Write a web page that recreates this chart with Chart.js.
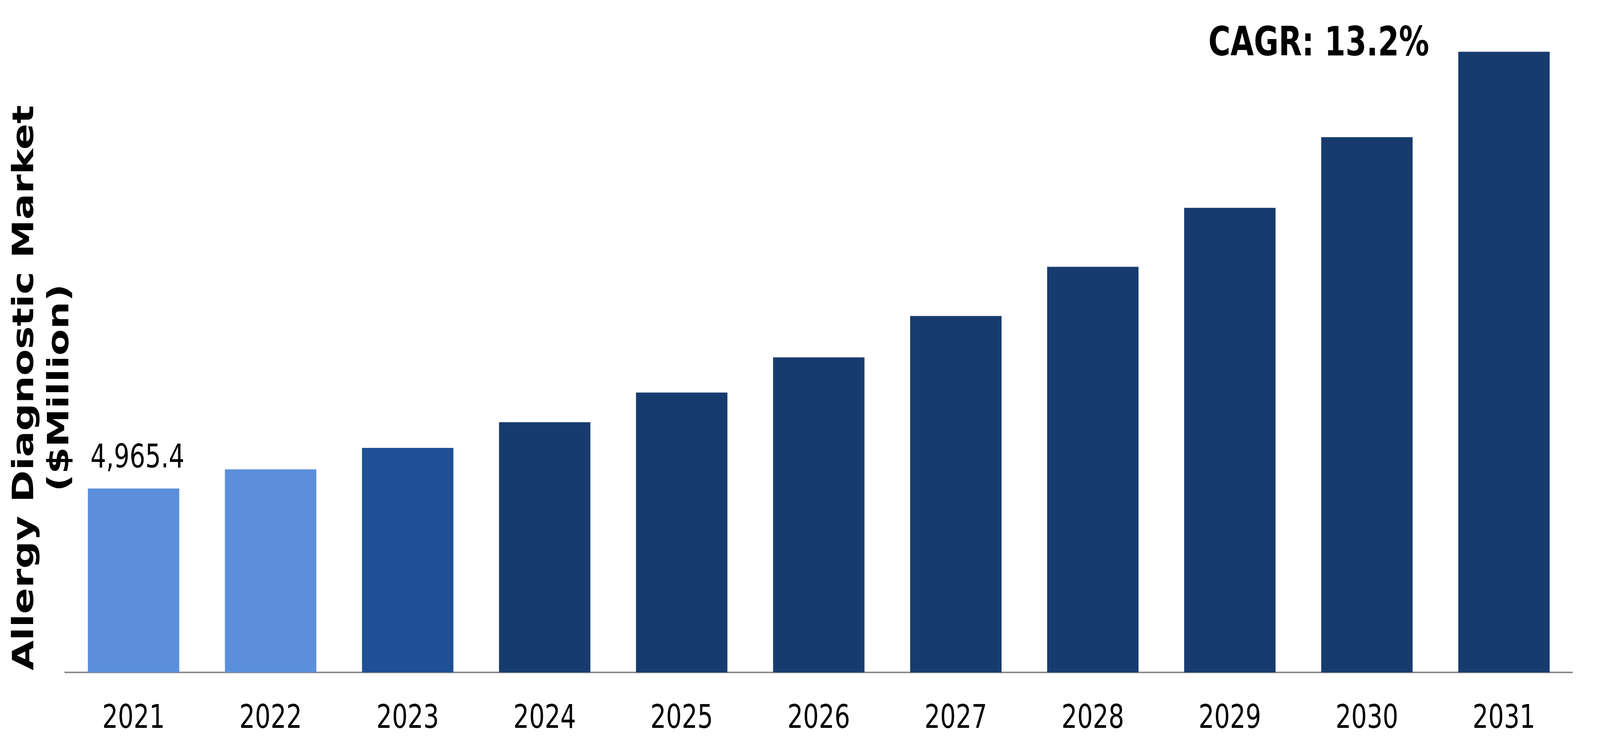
<!DOCTYPE html>
<html>
<head>
<meta charset="utf-8">
<script src="https://cdn.jsdelivr.net/npm/chart.js@4.4.0/dist/chart.umd.min.js"></script>
<style>
    html, body { margin: 0; padding: 0; background: #ffffff; overflow: hidden; }
</style>
</head>
<body>
<!-- drawn at 5459x1913 and stretched by css to whatever the window is -->
<canvas id="marketChart" width="5459" height="1913" style="width: 100vw; height: 100vh; display: block;"></canvas>
<script>
// chart data
const years = ['2021', '2022', '2023', '2024', '2025', '2026', '2027', '2028', '2029', '2030', '2031'];
const marketValues = [4965.4, 5482, 6062, 6757, 7559, 8507, 9625, 10953, 12545, 14453, 16762];
const barColors = ['#5b8fdb', '#5b8fdb', '#1f4f94', '#183b6e', '#183b6e', '#183b6e', '#183b6e', '#183b6e', '#183b6e', '#183b6e', '#183b6e'];
const yAxisTitle = ['Allergy Diagnostic Market', '($Million)'];
const firstValueLabel = '4,965.4';
const cagrText = 'CAGR: 13.2%';

// draws the rotated axis title, the first bar value and the CAGR note
const textPlugin = {
    id: 'extraText',
    afterDraw(chart) {
        const ctx = chart.ctx;
        const area = chart.chartArea;
        const bars = chart.getDatasetMeta(0).data;

        ctx.save();
        ctx.fillStyle = '#000000';

        // y axis title, two lines
        ctx.save();
        ctx.translate(0, area.bottom - 729);
        ctx.rotate(-Math.PI / 2);
        ctx.font = 'bold 99px "DejaVu Sans"';
        ctx.textAlign = 'center';
        ctx.textBaseline = 'alphabetic';
        ctx.fillText(yAxisTitle[0], 0, 113);
        ctx.fillText(yAxisTitle[1], 0, 233);
        ctx.restore();

        // value over the first bar
        const first = bars[0];
        ctx.font = '84px "DejaVu Sans"';
        ctx.textAlign = 'center';
        ctx.textBaseline = 'alphabetic';
        ctx.fillText(firstValueLabel, first.x + 13, first.y - 54);

        // CAGR note left of the last bar
        const last = bars[bars.length - 1];
        ctx.font = 'bold 103px "DejaVu Sans"';
        ctx.textAlign = 'right';
        ctx.fillText(cagrText, last.x - last.width / 2 - 99, last.y + 10);

        ctx.restore();
    }
};

const chart = new Chart(document.getElementById('marketChart'), {
    type: 'bar',
    data: {
        labels: years,
        datasets: [{
            data: marketValues,
            backgroundColor: barColors,
            borderWidth: 0,
            categoryPercentage: 1.0,
            barPercentage: 0.667
        }]
    },
    options: {
        responsive: false,
        animation: false,
        devicePixelRatio: 1,
        layout: {
            padding: { left: 222, right: 94, top: 15, bottom: 0 }
        },
        plugins: {
            legend: { display: false },
            tooltip: { enabled: false }
        },
        scales: {
            x: {
                grid: { display: false, drawTicks: false },
                border: { display: true, color: '#8c8c8c', width: 4 },
                ticks: {
                    color: '#000000',
                    padding: 70,
                    font: { family: 'DejaVu Sans', size: 84 }
                },
                afterFit: function(scale) {
                    scale.height = 191; // keeps the axis line where the original has it
                }
            },
            y: {
                display: false,
                min: 0,
                max: 18000
            }
        }
    },
    plugins: [textPlugin]
});
</script>
</body>
</html>
